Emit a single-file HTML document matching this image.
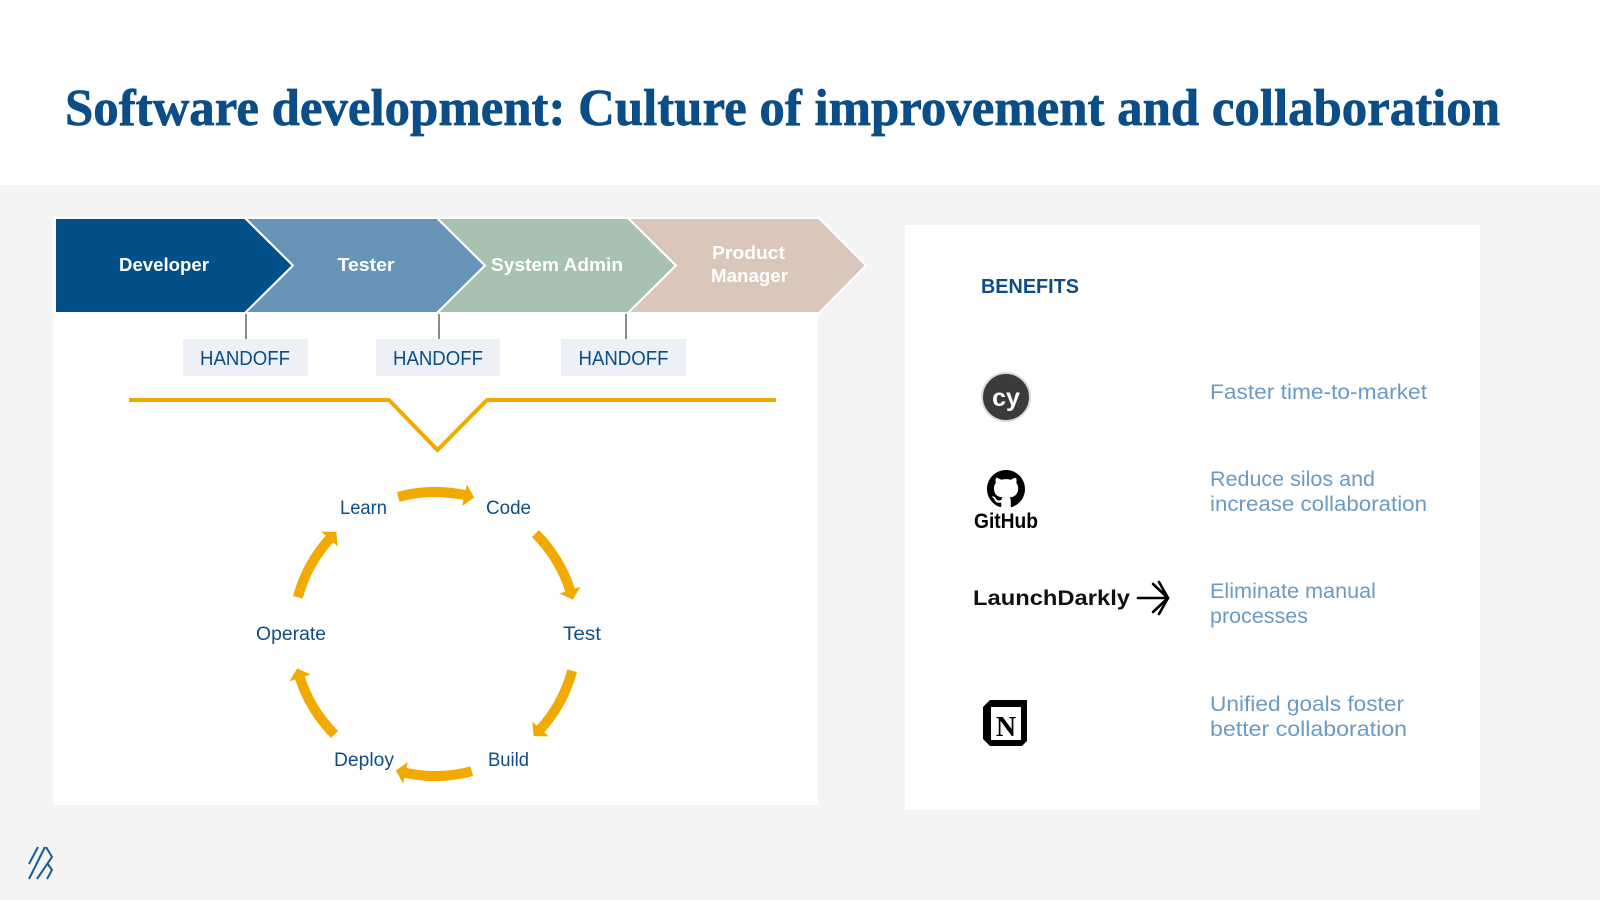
<!DOCTYPE html>
<html>
<head>
<meta charset="utf-8">
<style>
html,body{margin:0;padding:0;background:#fff;}
svg{display:block;}
</style>
</head>
<body>
<svg width="1600" height="900" viewBox="0 0 1600 900" xmlns="http://www.w3.org/2000/svg">
  <!-- backgrounds -->
  <rect x="0" y="0" width="1600" height="185" fill="#ffffff"/>
  <rect x="0" y="185" width="1600" height="715" fill="#f3f4f3"/>

  <!-- title -->
  <text x="65" y="125" font-family="Liberation Serif, serif" font-weight="bold" font-size="52" fill="#0b4d86" stroke="#0b4d86" stroke-width="0.7" textLength="1435" lengthAdjust="spacingAndGlyphs">Software development: Culture of improvement and collaboration</text>

  <!-- left panel -->
  <rect x="53" y="217" width="765" height="588" fill="#ffffff"/>

  <!-- chevrons -->
  <g stroke="#ffffff" stroke-width="2" stroke-linejoin="miter">
    <polygon points="55,218 245,218 293,265.5 245,313 55,313" fill="#034f87"/>
    <polygon points="245,218 437,218 485,265.5 437,313 245,313 293,265.5" fill="#6795b7"/>
    <polygon points="437,218 628,218 676,265.5 628,313 437,313 485,265.5" fill="#a8c1b0"/>
    <polygon points="628,218 819,218 866,265.5 819,313 628,313 676,265.5" fill="#d8c7ba"/>
  </g>
  <g font-family="Liberation Sans, sans-serif" font-weight="bold" font-size="18" fill="#ffffff" text-anchor="middle">
    <text x="164" y="271" textLength="90" lengthAdjust="spacingAndGlyphs">Developer</text>
    <text x="366" y="271" textLength="57" lengthAdjust="spacingAndGlyphs">Tester</text>
    <text x="557" y="271" textLength="132" lengthAdjust="spacingAndGlyphs">System Admin</text>
    <text x="748.5" y="259" textLength="73" lengthAdjust="spacingAndGlyphs">Product</text>
    <text x="749.5" y="282" textLength="77" lengthAdjust="spacingAndGlyphs">Manager</text>
  </g>

  <!-- handoff connectors -->
  <g stroke="#8a8a8a" stroke-width="2">
    <line x1="246" y1="314" x2="246" y2="339"/>
    <line x1="439" y1="314" x2="439" y2="339"/>
    <line x1="626" y1="314" x2="626" y2="339"/>
  </g>
  <g fill="#edf0f7">
    <rect x="183" y="339" width="125" height="37"/>
    <rect x="376" y="339" width="124" height="37"/>
    <rect x="561" y="339" width="125" height="37"/>
  </g>
  <g font-family="Liberation Sans, sans-serif" font-size="20" fill="#0b4d86" text-anchor="middle">
    <text x="245" y="365" textLength="90" lengthAdjust="spacingAndGlyphs">HANDOFF</text>
    <text x="438" y="365" textLength="90" lengthAdjust="spacingAndGlyphs">HANDOFF</text>
    <text x="623.5" y="365" textLength="90" lengthAdjust="spacingAndGlyphs">HANDOFF</text>
  </g>

  <!-- orange bracket -->
  <polyline points="129,400 389,400 437.5,450 487,400 776,400" fill="none" stroke="#f2a900" stroke-width="4" stroke-linejoin="miter"/>

  <!-- cycle arrows -->
  <defs>
    <g id="cyc">
      <path d="M572.16,597.25 A142,142 0 0 1 573.64,664.73" fill="none" stroke="#f2a900" stroke-width="10"/>
      <polygon points="563.11,661.23 584.67,665.81 571.50,673.14" fill="#f2a900"/>
    </g>
  </defs>
  <use href="#cyc" transform="rotate(-90 435 634)"/>
  <use href="#cyc" transform="rotate(-30 435 634)"/>
  <use href="#cyc" transform="rotate(30 435 634)"/>
  <use href="#cyc" transform="rotate(90 435 634)"/>
  <use href="#cyc" transform="rotate(150 435 634)"/>
  <use href="#cyc" transform="rotate(210 435 634)"/>

  <g font-family="Liberation Sans, sans-serif" font-size="19" fill="#0f4e87" text-anchor="middle">
    <text x="363.5" y="514" textLength="47" lengthAdjust="spacingAndGlyphs">Learn</text>
    <text x="508.5" y="514" textLength="45" lengthAdjust="spacingAndGlyphs">Code</text>
    <text x="582" y="640" textLength="38" lengthAdjust="spacingAndGlyphs">Test</text>
    <text x="291" y="640" textLength="70" lengthAdjust="spacingAndGlyphs">Operate</text>
    <text x="364" y="766" textLength="60" lengthAdjust="spacingAndGlyphs">Deploy</text>
    <text x="508.5" y="766" textLength="41" lengthAdjust="spacingAndGlyphs">Build</text>
  </g>

  <!-- right panel -->
  <rect x="905" y="225" width="575" height="585" fill="#ffffff"/>
  <text x="981" y="293" font-family="Liberation Sans, sans-serif" font-weight="bold" font-size="20" fill="#0b4d86" textLength="98" lengthAdjust="spacingAndGlyphs">BENEFITS</text>

  <!-- cypress icon -->
  <circle cx="1006" cy="397" r="24" fill="#3b3b3b" stroke="#d9d9d9" stroke-width="2"/>
  <text x="1006" y="406" font-family="Liberation Sans, sans-serif" font-weight="bold" font-size="25" fill="#ffffff" text-anchor="middle">cy</text>

  <!-- github icon -->
  <path transform="translate(987,470) scale(2.375)" fill="#000000" d="M8 0C3.58 0 0 3.58 0 8c0 3.54 2.29 6.53 5.47 7.59.4.07.55-.17.55-.38 0-.19-.01-.82-.01-1.49-2.01.37-2.53-.49-2.69-.94-.09-.23-.48-.94-.82-1.13-.28-.15-.68-.52-.01-.53.63-.01 1.08.58 1.23.82.72 1.21 1.87.87 2.33.66.07-.52.28-.87.51-1.07-1.78-.2-3.64-.89-3.64-3.95 0-.87.31-1.59.82-2.15-.08-.2-.36-1.02.08-2.12 0 0 .67-.21 2.2.82.64-.18 1.32-.27 2-.27.68 0 1.36.09 2 .27 1.53-1.04 2.2-.82 2.2-.82.44 1.1.16 1.92.08 2.12.51.56.82 1.27.82 2.15 0 3.07-1.87 3.75-3.65 3.95.29.25.54.73.54 1.48 0 1.07-.01 1.93-.01 2.2 0 .21.15.46.55.38A8.013 8.013 0 0 0 16 8c0-4.42-3.58-8-8-8z"/>
  <text x="974" y="528" font-family="Liberation Sans, sans-serif" font-weight="bold" font-size="21" fill="#000000" textLength="64" lengthAdjust="spacingAndGlyphs">GitHub</text>

  <!-- launchdarkly -->
  <text x="973" y="605" font-family="Liberation Sans, sans-serif" font-weight="bold" font-size="21" fill="#111111" textLength="157" lengthAdjust="spacingAndGlyphs">LaunchDarkly</text>
  <g stroke="#000000" stroke-width="2.6" stroke-linecap="round">
    <line x1="1138" y1="598" x2="1167" y2="598"/>
    <line x1="1168" y1="598" x2="1153" y2="584"/>
    <line x1="1168" y1="598" x2="1159" y2="582"/>
    <line x1="1168" y1="598" x2="1153" y2="612"/>
    <line x1="1168" y1="598" x2="1159" y2="614"/>
  </g>

  <!-- notion -->
  <polygon points="983,707 990,700 1027,700 1027,741 1022,746 990,746 983,739" fill="#000000"/>
  <rect x="990" y="706" width="32" height="35" fill="#ffffff" stroke="#000000" stroke-width="2"/>
  <text x="1006" y="736" font-family="Liberation Serif, serif" font-weight="bold" font-size="28" fill="#000000" text-anchor="middle">N</text>

  <!-- benefit text -->
  <g font-family="Liberation Sans, sans-serif" font-size="21" fill="#6a9bc4">
    <text x="1210" y="399" textLength="217" lengthAdjust="spacingAndGlyphs">Faster time-to-market</text>
    <text x="1210" y="486" textLength="165" lengthAdjust="spacingAndGlyphs">Reduce silos and</text>
    <text x="1210" y="511" textLength="217" lengthAdjust="spacingAndGlyphs">increase collaboration</text>
    <text x="1210" y="598" textLength="166" lengthAdjust="spacingAndGlyphs">Eliminate manual</text>
    <text x="1210" y="623" textLength="98" lengthAdjust="spacingAndGlyphs">processes</text>
    <text x="1210" y="711" textLength="194" lengthAdjust="spacingAndGlyphs">Unified goals foster</text>
    <text x="1210" y="736" textLength="197" lengthAdjust="spacingAndGlyphs">better collaboration</text>
  </g>

  <!-- bottom-left logo -->
  <g stroke="#1e5b94" stroke-width="2" fill="none" stroke-linecap="butt">
    <line x1="38" y1="847" x2="29" y2="864"/>
    <line x1="45" y1="847" x2="29" y2="879"/>
    <polyline points="46,847 52,857 37,879"/>
    <polyline points="47,863 52,870 47,879"/>
  </g>
</svg>
</body>
</html>
